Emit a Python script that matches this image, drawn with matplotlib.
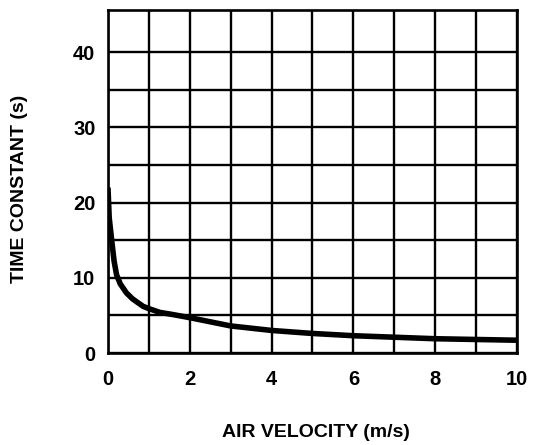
import numpy as np
import matplotlib.pyplot as plt

# ---------------- DATA ----------------
air_velocity = [0, 0.03, 0.09, 0.15, 0.21, 0.3, 0.45, 0.6, 0.86, 1.0, 1.27, 1.6,
                2, 3, 4, 5, 6, 7, 8, 9, 10]
time_constant = [22, 18, 15, 12.2, 10.4, 9.2, 8.0, 7.2, 6.2, 5.9, 5.4, 5.1,
                 4.7, 3.6, 3.0, 2.6, 2.3, 2.1, 1.9, 1.8, 1.7]
x_ticks = [0, 2, 4, 6, 8, 10]
y_ticks = [0, 10, 20, 30, 40]
# --------------------------------------

plt.rcParams['font.family'] = ['Liberation Sans', 'DejaVu Sans']
plt.rcParams['font.weight'] = 'bold'

fig = plt.figure(figsize=(5.38, 4.45), dpi=100)
ax = fig.add_axes([0.2007, 0.2067, 0.7603, 0.7708])

ax.plot(air_velocity, time_constant, color='black', linewidth=4.0,
        solid_capstyle='butt', solid_joinstyle='round', zorder=3)

ax.set_xlim(0, 10)
ax.set_ylim(0, 45.6)
ax.set_xticks(np.arange(0, 11, 1), minor=True)
ax.set_yticks(np.arange(0, 40, 5), minor=True)
ax.set_xticks(x_ticks)
ax.set_yticks(y_ticks)
ax.grid(True, which='both', color='black', linewidth=1.7)
ax.tick_params(which='both', length=0, labelsize=14.5)
ax.tick_params(axis='x', pad=12)
ax.tick_params(axis='y', pad=9)
for s in ax.spines.values():
    s.set_linewidth(1.9)

fig.text(0.037, 0.575, "TIME CONSTANT (s)", rotation=90, ha='center', va='center',
         fontsize=14, fontweight='bold')
fig.text(0.587, 0.029, "AIR VELOCITY (m/s)", ha='center', va='center',
         fontsize=14, fontweight='bold')

plt.savefig("out.png", dpi=100)
